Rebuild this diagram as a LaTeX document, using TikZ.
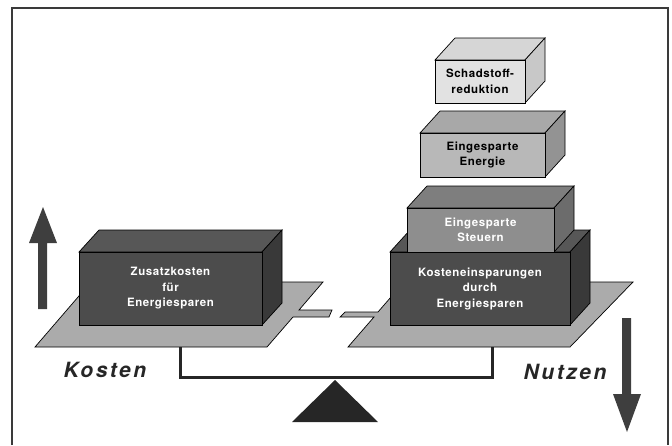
\documentclass[tikz,border=0pt]{standalone}
\usepackage{fontspec}
\usepackage{xcolor}
\usetikzlibrary{calc}
\newfontfamily\boxfont[LetterSpace=5]{TeX Gyre Heros}
\newfontfamily\sidefont[LetterSpace=12]{TeX Gyre Heros}
\definecolor{color_frame}{HTML}{3a3a3a}
\definecolor{color_dark_front}{HTML}{4c4c4c}
\definecolor{color_dark_top}{HTML}{575757}
\definecolor{color_dark_side}{HTML}{393939}
\definecolor{color_mid_front}{HTML}{8e8e8e}
\definecolor{color_mid_top}{HTML}{7e7e7e}
\definecolor{color_mid_side}{HTML}{6c6c6c}
\definecolor{color_light_front}{HTML}{b8b8b8}
\definecolor{color_light_top}{HTML}{a8a8a8}
\definecolor{color_light_side}{HTML}{939393}
\definecolor{color_pale_front}{HTML}{e2e2e2}
\definecolor{color_pale_top}{HTML}{d6d6d6}
\definecolor{color_pale_side}{HTML}{c8c8c8}
\definecolor{color_platform}{HTML}{ababab}
\definecolor{color_arrow}{HTML}{3e3e3e}

% front top-left x, y, width, height, front, top, side
\newcommand{\drawcuboid}[7]{%
	\filldraw[edge,fill=#6]
		(#1,#2) -- ++(20,-22) -- ++(#3,0) -- ++(-20,22) -- cycle;
	\filldraw[edge,fill=#7]
		({#1+#3},#2) -- ++(20,-22) -- ++(0,#4) -- ++(-20,22) -- cycle;
	\filldraw[edge,fill=#5]
		(#1,#2) rectangle ++(#3,#4);
}

\begin{document}
\begin{tikzpicture}[x=1pt,y=-1pt,
		edge/.style={draw=black,line width=0.7pt},
		boxlabel/.style={align=center,font=\boxfont\bfseries\fontsize{11.5}{15.5}\selectfont},
		sidelabel/.style={font=\sidefont\bfseries\itshape\fontsize{21}{24}\selectfont},
	]
	\useasboundingbox (0, 0) rectangle (672, 445);
	% Points
	\coordinate (BeamL) at (180, 347);
	\coordinate (BeamR) at (492, 347);
	\coordinate (Apex) at (335, 380);

	% Frame
	\draw[color_frame, line width=1.2pt]
		(12, 445) -- (12, 8) -- (668, 8) -- (668, 445);

	% Beam and fulcrum
	\draw[black!85, line width=3pt]
		(BeamL) |- ($(BeamR)+(0,30)$) -- (BeamR);
	\fill[black!85]
		(Apex) -- ++(43, 42) -- ++(-86, 0) -- cycle;

	% Platforms
	\filldraw[edge, fill=color_platform]
		(35, 347) -- (267, 347) -- (293, 317) -- (329, 317) --
		(332, 310) -- (299, 310) -- (323, 282) -- (91, 282) -- cycle;
	\filldraw[edge, fill=color_platform]
		(348, 347) -- (570, 347) -- (633, 282) -- (404, 282) --
		(378, 312) -- (345, 312) -- (340, 317) -- (374, 317) -- cycle;

	% Cost side
	\drawcuboid{79}{252}{183}{73}{color_dark_front}{color_dark_top}{color_dark_side}
	\node[boxlabel, white] (zusatz) at (170.5, 288.5)
		{Zusatzkosten\\für\\Energiesparen};

	% Benefit side
	\drawcuboid{390}{252}{180}{73}{color_dark_front}{color_dark_top}{color_dark_side}
	\node[boxlabel, white] (einsparung) at (480, 288.5)
		{Kosteneinsparungen\\durch\\Energiesparen};
	\drawcuboid{407}{208}{147}{44}{color_mid_front}{color_mid_top}{color_mid_side}
	\node[boxlabel, white] (steuern) at (480.5, 230)
		{Eingesparte\\Steuern};
	\drawcuboid{420}{133}{125}{44}{color_light_front}{color_light_top}{color_light_side}
	\node[boxlabel] (energie) at (482.5, 155)
		{Eingesparte\\Energie};
	\drawcuboid{435}{60}{90}{43}{color_pale_front}{color_pale_top}{color_pale_side}
	\node[boxlabel] (schadstoff) at (480, 81.5)
		{Schadstoff-\\reduktion};

	% Arrows
	\fill[color_arrow]
		(38, 309) -- (38, 243) -- (29, 243) -- (43, 207) --
		(57, 243) -- (47, 243) -- (47, 309) -- cycle;
	\fill[color_arrow]
		(622, 318) -- (622, 394) -- (613, 394) -- (627, 432) --
		(641, 394) -- (631, 394) -- (631, 318) -- cycle;

	% Labels
	\node[sidelabel, black!85] (kosten) at (105, 370) {Kosten};
	\node[sidelabel, black!85] (nutzen) at (565, 372) {Nutzen};
\end{tikzpicture}
\end{document}
